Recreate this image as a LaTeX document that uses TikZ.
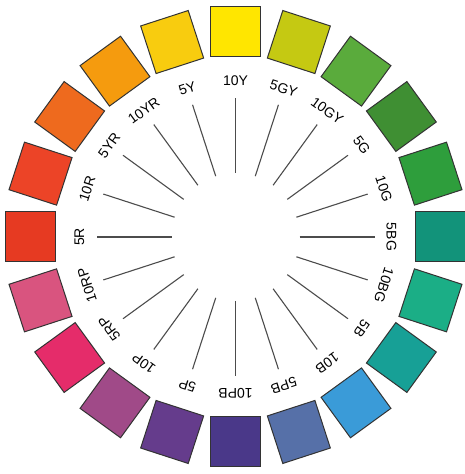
\documentclass[tikz,border=0pt]{standalone}
\usepackage{fontspec}
\setmainfont{Liberation Sans}
\usetikzlibrary{calc}
\definecolor{hY}{HTML}{FFE600}
\definecolor{hGYa}{HTML}{C5C912}
\definecolor{hGYb}{HTML}{5AAB3C}
\definecolor{hGa}{HTML}{3F8F33}
\definecolor{hGb}{HTML}{2E9E3C}
\definecolor{hBGa}{HTML}{12937A}
\definecolor{hBGb}{HTML}{1BAE86}
\definecolor{hBa}{HTML}{17A096}
\definecolor{hBb}{HTML}{3A9BD8}
\definecolor{hPBa}{HTML}{5670A8}
\definecolor{hPBb}{HTML}{4A3889}
\definecolor{hPa}{HTML}{653C8C}
\definecolor{hPb}{HTML}{A04A88}
\definecolor{hRPa}{HTML}{E52C6A}
\definecolor{hRPb}{HTML}{D9547F}
\definecolor{hRa}{HTML}{E63A22}
\definecolor{hRb}{HTML}{EC4427}
\definecolor{hYRa}{HTML}{EE6A1E}
\definecolor{hYRb}{HTML}{F59B0E}
\definecolor{hYa}{HTML}{F8CC0F}

\begin{document}
\begin{tikzpicture}[x=1pt, y=1pt, font=\fontsize{14}{14}\selectfont,
	chip/.style={draw=black!80, line width=1pt, minimum size=50pt, inner sep=0pt},
	hue/.style={inner sep=0pt, text=black},
	spoke/.style={draw=black!70, line width=1.1pt}]
	\useasboundingbox (0,0) rectangle (465,474);
	\coordinate (c) at (235.5,237);
	\foreach \hname/\hcol [count=\i from 0] in {10Y/hY, 5GY/hGYa, 10GY/hGYb,
		5G/hGa, 10G/hGb, 5BG/hBGa, 10BG/hBGb, 5B/hBa, 10B/hBb, 5PB/hPBa,
		10PB/hPBb, 5P/hPa, 10P/hPb, 5RP/hRPa, 10RP/hRPb, 5R/hRa, 10R/hRb,
		5YR/hYRa, 10YR/hYRb, 5Y/hYa}{
		\pgfmathsetmacro{\ang}{90-18*\i}
		\node[chip, fill=\hcol, rotate=\ang-90] (chip\i) at ($(c)+(\ang:205)$) {};
		\node[hue, rotate=\ang-90] (lab\i) at ($(c)+(\ang:156)$) {\hname};
		\coordinate (in\i) at ($(c)+(\ang:64)$);
		\coordinate (out\i) at ($(c)+(\ang:139)$);
		\draw[spoke] (in\i) -- (out\i);
	}
\end{tikzpicture}
\end{document}
